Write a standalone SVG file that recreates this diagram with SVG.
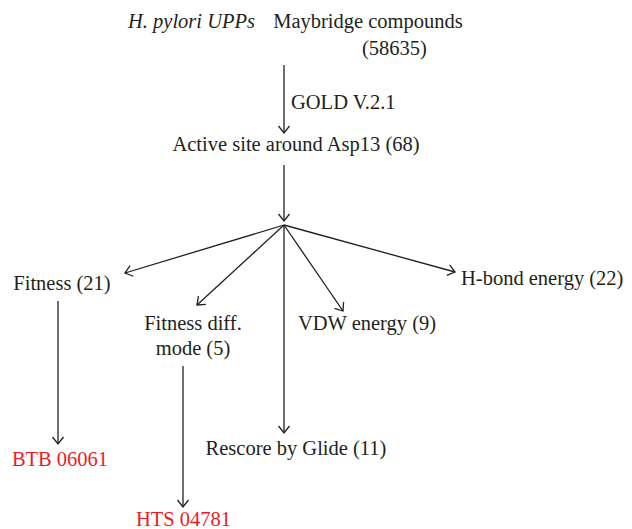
<svg xmlns="http://www.w3.org/2000/svg" width="632" height="529" viewBox="0 0 632 529">
<defs>
<style>
text{font-family:'Liberation Serif','DejaVu Serif',serif;font-size:20.5px;fill:#231f20}
.r{fill:#ed1c24}
.i{font-style:italic}
.c{text-anchor:middle}
.e{stroke:#231f20;stroke-width:1.3;fill:none}
</style>
<marker id="ah" markerUnits="userSpaceOnUse" markerWidth="20" markerHeight="20" refX="10" refY="10" orient="auto" overflow="visible">
<path d="M3,4.5 L10,10 L3,15.5" fill="none" stroke="#231f20" stroke-width="1.3"/>
</marker>
</defs>
<rect width="632" height="529" fill="#fff"/>
<g id="connectors">
<line class="e" x1="284" y1="65" x2="284" y2="133" marker-end="url(#ah)"/>
<line class="e" x1="284" y1="165" x2="284" y2="221" marker-end="url(#ah)"/>
<line class="e" x1="284" y1="225" x2="125" y2="273" marker-end="url(#ah)"/>
<line class="e" x1="284" y1="225" x2="197" y2="305" marker-end="url(#ah)"/>
<line class="e" x1="284" y1="225" x2="343" y2="311" marker-end="url(#ah)"/>
<line class="e" x1="284" y1="225" x2="455" y2="272" marker-end="url(#ah)"/>
<line class="e" x1="284" y1="225" x2="284" y2="433" marker-end="url(#ah)"/>
<line class="e" x1="58" y1="301" x2="58" y2="444" marker-end="url(#ah)"/>
<line class="e" x1="183" y1="366" x2="183" y2="507" marker-end="url(#ah)"/>
</g>
<g font-family="'Liberation Serif', serif">
<g id="upps"><text class="i c" x="191.5" y="28">H. pylori UPPs</text></g>
<g id="maybridge"><text class="c" x="368" y="28">Maybridge compounds</text><text class="c" x="394.5" y="55">(58635)</text></g>
<g id="gold"><text x="291" y="109">GOLD V.2.1</text></g>
<g id="active"><text class="c" x="296" y="151">Active site around Asp13 (68)</text></g>
<g id="fitness"><text class="c" x="62" y="290">Fitness (21)</text></g>
<g id="fitdiff"><text class="c" x="193" y="330">Fitness diff.</text><text class="c" x="193" y="355">mode (5)</text></g>
<g id="vdw"><text class="c" x="367" y="330">VDW energy (9)</text></g>
<g id="hbond"><text x="461" y="285">H-bond energy (22)</text></g>
<g id="rescore"><text class="c" x="296" y="455">Rescore by Glide (11)</text></g>
<g id="btb"><text class="r c" x="60" y="466">BTB 06061</text></g>
<g id="hts"><text class="r c" x="183.5" y="526">HTS 04781</text></g>
</g>
</svg>
